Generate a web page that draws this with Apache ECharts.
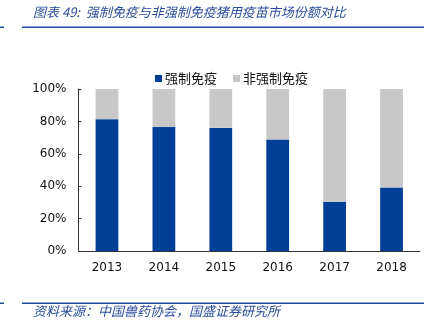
<!DOCTYPE html>
<html>
<head>
<meta charset="utf-8">
<style>
  html, body { margin: 0; padding: 0; background: #fff; }
  #chart { width: 436px; height: 328px; }
</style>
<script src="https://cdn.jsdelivr.net/npm/echarts@6/dist/echarts.min.js"></script>
</head>
<body>
<div id="chart"></div>
<script>
// Years on the category axis
const years = ['2013', '2014', '2015', '2016', '2017', '2018'];
// Market share of compulsory-immunisation swine vaccines (%)
const compulsory = [81.4, 76.5, 76, 68.8, 30.4, 39.2];
// Market share of non-compulsory swine vaccines (%)
const nonCompulsory = [18.6, 23.5, 24, 31.2, 69.6, 60.8];
// Series names shown in the legend
const seriesNames = ['强制免疫', '非强制免疫'];

const titleText = '图表 49:  强制免疫与非强制免疫猪用疫苗市场份额对比';
const sourceText = '资料来源：中国兽药协会，国盛证券研究所';

const chart = echarts.init(document.getElementById('chart'), null, { renderer: 'canvas' });
const font = 'DejaVu Sans, Verdana, sans-serif';
const cjkFont = '"Noto Sans CJK SC", sans-serif';

chart.setOption({
  animation: false,
  backgroundColor: '#fff',
  grid: { left: 78.5, right: 16, top: 89, bottom: 77, containLabel: false },
  legend: {
    data: seriesNames,
    left: 150,
    top: 67,
    icon: 'rect',
    itemWidth: 7,
    itemHeight: 7,
    itemGap: 16,
    textStyle: { fontSize: 13, color: '#111', fontFamily: cjkFont, padding: [0, 0, 0, -2] }
  },
  xAxis: {
    type: 'category',
    data: years,
    axisLine: { lineStyle: { color: '#333', width: 1 } },
    axisTick: { inside: true, length: 4, lineStyle: { color: '#333' } },
    axisLabel: { fontSize: 12, color: '#111', fontFamily: font, margin: 11 }
  },
  yAxis: {
    type: 'value',
    min: 0,
    max: 100,
    interval: 20,
    splitLine: { show: false },
    axisLine: { show: true, lineStyle: { color: '#333', width: 1 } },
    axisTick: { show: true, inside: true, length: 3, lineStyle: { color: '#333' } },
    axisLabel: { formatter: '{value}%', fontSize: 12, color: '#111', fontFamily: font, margin: 12 }
  },
  series: [
    {
      name: seriesNames[0],
      type: 'bar',
      stack: 'share',
      data: compulsory,
      barWidth: '40%',
      itemStyle: { color: '#003F98' }
    },
    {
      name: seriesNames[1],
      type: 'bar',
      stack: 'share',
      data: nonCompulsory,
      barWidth: '40%',
      itemStyle: { color: '#C8C8C8' }
    }
  ],
  graphic: [
    // header rule and short left stub
    { type: 'rect', left: 22, top: 26.5, shape: { width: 402, height: 1.5 }, style: { fill: '#1F4E9C' } },
    { type: 'rect', left: 0, top: 26.5, shape: { width: 4, height: 1.5 }, style: { fill: '#1F4E9C' } },
    {
      type: 'text', left: 33, top: 6,
      style: { text: titleText, fill: '#2A4D9B', font: 'italic 13px ' + cjkFont }
    },
    // footer rule and short left stub
    { type: 'rect', left: 22, top: 302.5, shape: { width: 402, height: 1.5 }, style: { fill: '#1F4E9C' } },
    { type: 'rect', left: 0, top: 302.5, shape: { width: 4, height: 1.5 }, style: { fill: '#1F4E9C' } },
    {
      type: 'text', left: 33, top: 305,
      style: { text: sourceText, fill: '#2A4D9B', font: 'italic 13px ' + cjkFont }
    }
  ]
});
</script>
</body>
</html>
